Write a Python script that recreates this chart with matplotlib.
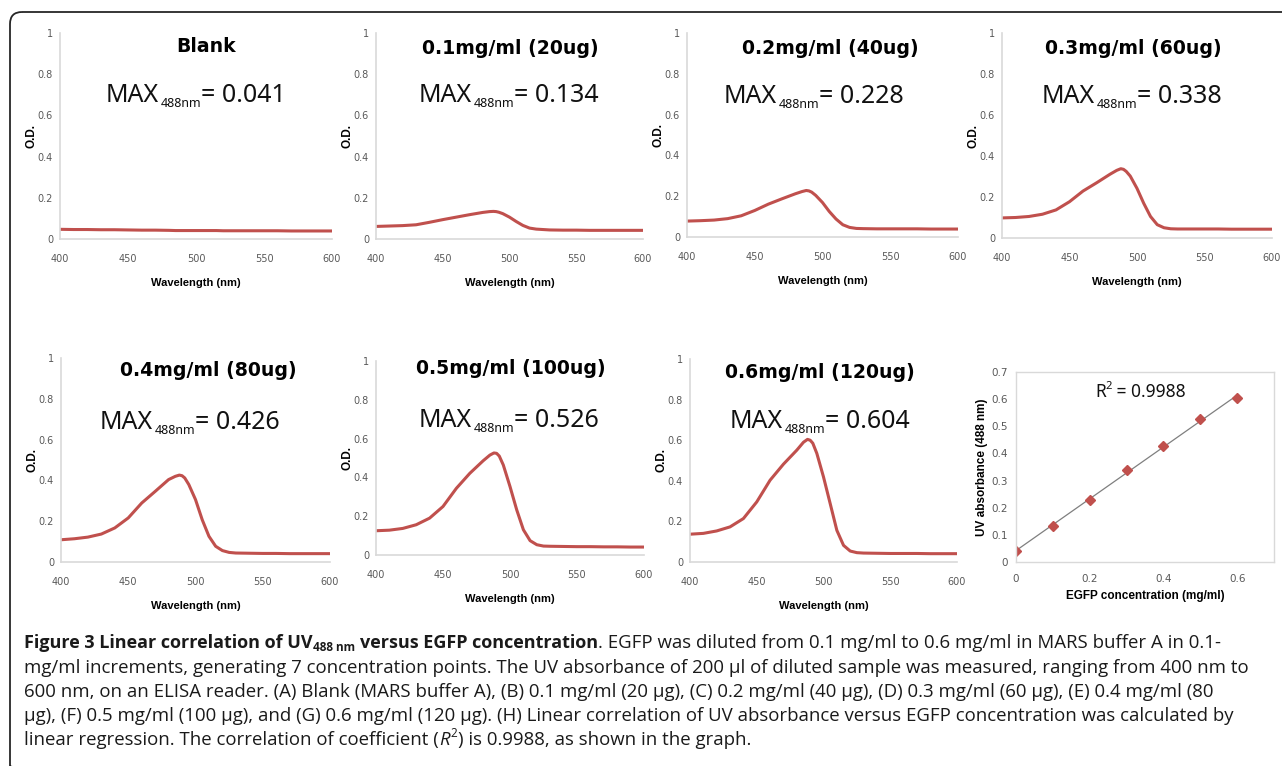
import numpy as np
import matplotlib
matplotlib.use('Agg')
import matplotlib.pyplot as plt
from matplotlib.patches import FancyBboxPatch

# ===== DATA =====
wavelength = [400, 410, 420, 430, 440, 450, 460, 470, 480, 485, 488, 490, 492, 495, 500,
              505, 510, 515, 520, 525, 530, 540, 550, 560, 570, 580, 590, 600]

od_blank = [0.047, 0.046, 0.046, 0.045, 0.045, 0.044, 0.043, 0.043, 0.042, 0.041, 0.041, 0.041, 0.041, 0.041, 0.041,
            0.041, 0.041, 0.041, 0.040, 0.040, 0.040, 0.040, 0.040, 0.040, 0.039, 0.039, 0.039, 0.039]
od_01 = [0.061, 0.063, 0.065, 0.069, 0.081, 0.094, 0.106, 0.118, 0.129, 0.133, 0.134, 0.133, 0.130, 0.123, 0.106,
         0.085, 0.066, 0.053, 0.048, 0.046, 0.044, 0.043, 0.043, 0.042, 0.042, 0.042, 0.042, 0.042]
od_02 = [0.078, 0.080, 0.083, 0.090, 0.104, 0.130, 0.161, 0.187, 0.212, 0.223, 0.228, 0.226, 0.220, 0.204, 0.169,
         0.125, 0.088, 0.060, 0.047, 0.042, 0.041, 0.040, 0.040, 0.040, 0.040, 0.039, 0.039, 0.039]
od_03 = [0.098, 0.100, 0.105, 0.116, 0.137, 0.177, 0.229, 0.269, 0.311, 0.330, 0.338, 0.335, 0.325, 0.302, 0.242,
         0.169, 0.105, 0.065, 0.050, 0.045, 0.044, 0.044, 0.044, 0.044, 0.043, 0.043, 0.043, 0.043]
od_04 = [0.109, 0.114, 0.122, 0.137, 0.167, 0.216, 0.289, 0.346, 0.404, 0.420, 0.426, 0.423, 0.412, 0.380, 0.306,
         0.207, 0.126, 0.077, 0.056, 0.047, 0.044, 0.043, 0.042, 0.042, 0.041, 0.041, 0.041, 0.041]
od_05 = [0.125, 0.128, 0.137, 0.156, 0.190, 0.250, 0.344, 0.421, 0.486, 0.515, 0.526, 0.524, 0.510, 0.464, 0.353,
         0.233, 0.130, 0.074, 0.053, 0.046, 0.045, 0.044, 0.043, 0.043, 0.042, 0.042, 0.041, 0.041]
od_06 = [0.137, 0.141, 0.153, 0.173, 0.214, 0.296, 0.403, 0.482, 0.551, 0.590, 0.604, 0.600, 0.585, 0.535, 0.419,
         0.288, 0.156, 0.082, 0.054, 0.046, 0.044, 0.043, 0.042, 0.042, 0.042, 0.041, 0.041, 0.041]

spectra = [od_blank, od_01, od_02, od_03, od_04, od_05, od_06]
titles = ['Blank', '0.1mg/ml (20ug)', '0.2mg/ml (40ug)', '0.3mg/ml (60ug)',
          '0.4mg/ml (80ug)', '0.5mg/ml (100ug)', '0.6mg/ml (120ug)']
max_labels = ['0.041', '0.134', '0.228', '0.338', '0.426', '0.526', '0.604']

concentration = [0, 0.1, 0.2, 0.3, 0.4, 0.5, 0.6]
abs_488 = [0.041, 0.134, 0.228, 0.338, 0.426, 0.526, 0.604]
r2_text = '0.9988'

od_ticks = [0, 0.2, 0.4, 0.6, 0.8, 1]
wl_ticks = [400, 450, 500, 550, 600]
conc_ticks = [0, 0.2, 0.4, 0.6]
abs_ticks = [0, 0.1, 0.2, 0.3, 0.4, 0.5, 0.6, 0.7]

# ===== LAYOUT (pixels) =====
W, H = 1282, 766
boxes = [(60, 33, 332, 239), (376, 33, 643, 239), (687, 33, 958, 237), (1002, 33, 1272, 238),
         (61, 358, 330, 562), (376, 361, 644, 555), (690, 359, 957, 562)]
title_pos = [(206, 47), (510, 48), (830, 48), (1133, 49), (208, 370), (511, 368), (820, 373)]
max_pos = [(106, 102), (419, 102), (724, 103), (1042, 103), (100, 429), (419, 427), (730, 428)]

RED = '#c0504d'
SPINE = '#d9d9d9'
TICK = '#595959'
LBL = 'Liberation Sans'


def rect(l, t, r, b):
    return [l / W, 1 - b / H, (r - l) / W, (b - t) / H]


def fmt(v):
    return f'{v:g}'


fig = plt.figure(figsize=(W / 100, H / 100), dpi=100)

# ===== SPECTRA =====
for i, od in enumerate(spectra):
    ax = fig.add_axes(rect(*boxes[i]))
    ax.set_facecolor('none')
    ax.plot(wavelength, od, color=RED, lw=2.2, solid_capstyle='round', solid_joinstyle='round')
    ax.set_xlim(400, 600)
    ax.set_ylim(0, 1)
    ax.set_xticks(wl_ticks)
    ax.set_yticks(od_ticks)
    ax.set_yticklabels([fmt(v) for v in od_ticks])
    ax.tick_params(length=0, labelsize=7, labelcolor=TICK)
    ax.tick_params(axis='x', pad=11)
    ax.tick_params(axis='y', pad=5)
    for s in ['top', 'right']:
        ax.spines[s].set_visible(False)
    for s in ['left', 'bottom']:
        ax.spines[s].set_color(SPINE)
        ax.spines[s].set_linewidth(1.2)
    ax.set_xlabel('Wavelength (nm)', fontsize=8, fontweight='bold', family=LBL, labelpad=10)
    ax.set_ylabel('O.D.', fontsize=8.5, fontweight='bold', family=LBL, labelpad=0)

# ===== LINEAR CORRELATION =====
axh = fig.add_axes(rect(1016, 372, 1274, 562))
axh.set_facecolor('none')
slope, intercept = np.polyfit(concentration, abs_488, 1)
xfit = np.array([min(concentration), max(concentration)])
axh.plot(xfit, slope * xfit + intercept, color='#7f7f7f', lw=0.9)
axh.plot(concentration, abs_488, 'D', color=RED, ms=5, mec=RED)
axh.set_xlim(0, 0.7)
axh.set_ylim(0, 0.7)
axh.set_xticks(conc_ticks)
axh.set_xticklabels([fmt(v) for v in conc_ticks])
axh.set_yticks(abs_ticks)
axh.set_yticklabels([fmt(v) for v in abs_ticks])
axh.tick_params(length=0, labelsize=7.5, labelcolor=TICK)
axh.tick_params(axis='x', pad=9)
axh.tick_params(axis='y', pad=6)
for s in axh.spines.values():
    s.set_color(SPINE)
    s.set_linewidth(1.0)
axh.set_xlabel('EGFP concentration (mg/ml)', fontsize=8.5, fontweight='bold', family=LBL, labelpad=4)
axh.set_ylabel('UV absorbance (488 nm)', fontsize=8.5, fontweight='bold', family=LBL, labelpad=2)

# ===== OVERLAY (pixel coords) =====
bg = fig.add_axes([0, 0, 1, 1], zorder=10)
bg.set_xlim(0, W)
bg.set_ylim(H, 0)
bg.axis('off')
bg.patch.set_visible(False)

border = FancyBboxPatch((10, 12), 1400, 766, boxstyle='round,pad=0,rounding_size=12',
                        fc='none', ec='#262626', lw=1.3)
bg.add_patch(border)


def chain(pieces, x, y):
    """pieces: (text, kwargs, dx_pt, dy_pt); baseline at y."""
    prev = None
    for s, kw, dx, dy in pieces:
        if prev is None:
            t = bg.annotate(s, xy=(x, y), xycoords='data', xytext=(dx, dy),
                            textcoords='offset points', va='baseline', ha='left', **kw)
        else:
            t = bg.annotate(s, xy=(1, y), xycoords=(prev, 'data'), xytext=(dx, dy),
                            textcoords='offset points', va='baseline', ha='left', **kw)
        prev = t
    return prev


MAXF = dict(family='Noto Sans', color='#111111')
for i in range(7):
    tx, ty = title_pos[i]
    bg.text(tx, ty, titles[i], ha='center', va='center', fontsize=13.6, fontweight='bold',
            family='DejaVu Sans', color='black')
    mx, my = max_pos[i]
    chain([('MAX', dict(fontsize=18, **MAXF), 0, 0),
           ('488nm', dict(fontsize=9, **MAXF), 1, -3.5),
           ('= ' + max_labels[i], dict(fontsize=18, **MAXF), 0, 0)], mx, my)

# R^2 in correlation panel
chain([('R', dict(fontsize=12.5, **MAXF), 0, 0),
       ('2', dict(fontsize=8, **MAXF), 0, 6),
       (' = ' + r2_text, dict(fontsize=12.5, **MAXF), 0, 0)], 1095, 397)

# ===== CAPTION =====
CF = 'Open Sans'
CC = '#1a1a1a'
CAP = dict(family=CF, fontsize=13.4, color=CC)
CAPB = dict(family=CF, fontsize=13, color=CC, fontweight='bold')
chain([('Figure 3 Linear correlation of UV', CAPB, 0, 0),
       ('488 nm', dict(family=CF, fontsize=8.5, color=CC, fontweight='bold'), 0.5, -2.5),
       ('versus EGFP concentration', CAPB, 3.5, 0),
       ('. EGFP was diluted from 0.1 mg/ml to 0.6 mg/ml in MARS buffer A in 0.1-', CAP, 0, 0)],
      24, 648)
bg.text(24, 673, 'mg/ml increments, generating 7 concentration points. The UV absorbance of 200 \u00b5l of '
        'diluted sample was measured, ranging from 400 nm to', va='baseline', **CAP)
bg.text(24, 697, '600 nm, on an ELISA reader. (A) Blank (MARS buffer A), (B) 0.1 mg/ml (20 \u00b5g), '
        '(C) 0.2 mg/ml (40 \u00b5g), (D) 0.3 mg/ml (60 \u00b5g), (E) 0.4 mg/ml (80', va='baseline', **CAP)
bg.text(24, 721, '\u00b5g), (F) 0.5 mg/ml (100 \u00b5g), and (G) 0.6 mg/ml (120 \u00b5g). (H) Linear '
        'correlation of UV absorbance versus EGFP concentration was calculated by', va='baseline', **CAP)
chain([('linear regression. The correlation of coefficient (', CAP, 0, 0),
       ('R', dict(CAP, style='italic'), 0, 0),
       ('2', dict(family=CF, fontsize=8.5, color=CC), 0.5, 6),
       (') is 0.9988, as shown in the graph.', CAP, 0.5, 0)],
      24, 745)

fig.savefig('out.png', dpi=100)
